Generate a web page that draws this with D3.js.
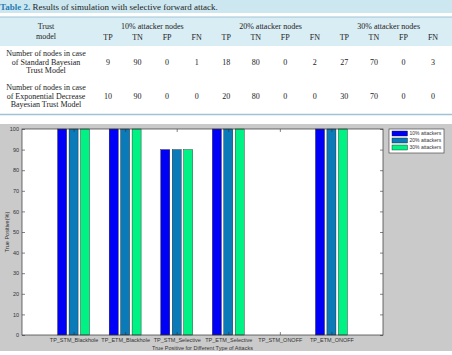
<!DOCTYPE html>
<html>
<head>
<meta charset="utf-8">
<script src="https://cdn.jsdelivr.net/npm/d3@7"></script>
<style>
  body { margin: 0; background: #fff; }
</style>
</head>
<body>
<div id="chart"></div>
<script>
// table data
var tableTitle = "Results of simulation with selective forward attack.";
var groupHeaders = ["10% attacker nodes", "20% attacker nodes", "30% attacker nodes"];
var subHeaders = ["TP", "TN", "FP", "FN"];
var rowLabels = [
  ["Number of nodes in case", "of Standard Bayesian", "Trust Model"],
  ["Number of nodes in case", "of Exponential Decrease", "Bayesian Trust Model"]
];
var stmRow = [9, 90, 0, 1, 18, 80, 0, 2, 27, 70, 0, 3];
var etmRow = [10, 90, 0, 0, 20, 80, 0, 0, 30, 70, 0, 0];

// chart data
var categories = ["TP_STM_Blackhole", "TP_ETM_Blackhole", "TP_STM_Selective",
                  "TP_ETM_Selective", "TP_STM_ONOFF", "TP_ETM_ONOFF"];
var seriesNames = ["10% attackers", "20% attackers", "30% attackers"];
var attack10 = [100, 100, 90, 100, 0, 100];
var attack20 = [100, 100, 90, 100, 0, 100];
var attack30 = [100, 100, 90, 100, 0, 100];
var yTicks = [0, 10, 20, 30, 40, 50, 60, 70, 80, 90, 100];

var colors = ["#0000f6", "#0a7ab8", "#00f284"];

function drawChart() {
  var W = 452, H = 355;
  var svg = d3.select("#chart").append("svg")
      .attr("width", W).attr("height", H)
      .style("display", "block");

  // ---------- table ----------
  var serif = "'Liberation Serif', 'Times New Roman', serif";

  svg.append("rect").attr("x", 0).attr("y", 0).attr("width", W).attr("height", 13)
    .attr("fill", "#cde7f0");
  var title = svg.append("text").attr("x", 0).attr("y", 10)
    .style("font-family", serif).style("font-size", "9px").attr("fill", "#222");
  title.append("tspan").attr("fill", "#2b7db3").style("font-weight", "bold").text("Table 2.");
  title.append("tspan").text(" " + tableTitle);

  svg.append("rect").attr("x", 0).attr("y", 17).attr("width", W).attr("height", 29)
    .attr("fill", "#d9edf4");
  svg.append("line").attr("x1", 0).attr("x2", W).attr("y1", 17).attr("y2", 17)
    .attr("stroke", "#9fc3d4").attr("stroke-width", 1);
  svg.append("line").attr("x1", 0).attr("x2", W).attr("y1", 114.5).attr("y2", 114.5)
    .attr("stroke", "#9fc3d4").attr("stroke-width", 1.5);

  var cols = d3.range(12);
  var colX = d3.scalePoint().domain(cols).range([108, 433]);

  var tText = function (x, y, s) {
    return svg.append("text").attr("x", x).attr("y", y)
      .attr("text-anchor", "middle")
      .style("font-family", serif).style("font-size", "8px")
      .attr("fill", "#222").text(s);
  };

  tText(46, 29, "Trust");
  tText(46, 39, "model");
  groupHeaders.forEach(function (g, i) {
    var cx = (colX(i * 4) + colX(i * 4 + 3)) / 2;
    tText(cx, 29, g);
  });
  cols.forEach(function (c) {
    tText(colX(c), 40, subHeaders[c % 4]);
  });

  [stmRow, etmRow].forEach(function (row, r) {
    var base = r === 0 ? 56 : 90;
    rowLabels[r].forEach(function (l, k) { tText(46, base + k * 8.7, l); });
    row.forEach(function (v, c) { tText(colX(c), base + 8.7, v); });
  });

  // ---------- chart ----------
  var sans = "'Liberation Sans', Arial, sans-serif";
  svg.append("rect").attr("x", 0).attr("y", 124).attr("width", W).attr("height", 227)
    .attr("fill", "#cacaca");

  var pLeft = 22, pRight = 383, pTop = 129, pBottom = 335;
  var x = d3.scaleLinear().domain([0, categories.length + 1]).range([pLeft, pRight]);
  var y = d3.scaleLinear().domain([0, 100]).range([pBottom, pTop]);

  svg.append("rect").attr("x", pLeft).attr("y", pTop)
    .attr("width", pRight - pLeft).attr("height", pBottom - pTop).attr("fill", "#fff");

  var series = [attack10, attack20, attack30];
  var offsets = [-0.222, 0, 0.222];
  var barW = 0.175;

  series.forEach(function (vals, s) {
    svg.append("g").selectAll("rect")
      .data(vals)
      .enter().append("rect")
      .attr("x", function (d, i) { return x(i + 1 + offsets[s] - barW / 2); })
      .attr("width", function () { return x(barW) - x(0); })
      .attr("y", function (d) { return y(d); })
      .attr("height", function (d) { return y(0) - y(d); })
      .attr("fill", colors[s])
      .attr("stroke", "#1a1a1a").attr("stroke-width", 0.4);
  });

  var styleAxis = function (g) {
    g.select(".domain").remove();
    g.selectAll("line").attr("stroke", "#333").attr("stroke-width", 0.6);
    g.selectAll("text").style("font-family", sans).style("font-size", "5.5px").attr("fill", "#333");
  };

  svg.append("g").attr("transform", "translate(" + pLeft + ",0)")
    .call(d3.axisLeft(y).tickValues(yTicks).tickSize(-3).tickPadding(3))
    .call(styleAxis);
  svg.append("g").attr("transform", "translate(" + pRight + ",0)")
    .call(d3.axisRight(y).tickValues(yTicks).tickSize(-3).tickFormat(""))
    .call(styleAxis);
  svg.append("g").attr("transform", "translate(0," + pBottom + ")")
    .call(d3.axisBottom(x).tickValues(d3.range(1, categories.length + 1)).tickSize(-3)
      .tickPadding(3).tickFormat(function (d) { return categories[d - 1]; }))
    .call(styleAxis);
  svg.append("g").attr("transform", "translate(0," + pTop + ")")
    .call(d3.axisTop(x).tickValues(d3.range(1, categories.length + 1)).tickSize(-3).tickFormat(""))
    .call(styleAxis);

  svg.append("rect").attr("x", pLeft).attr("y", pTop)
    .attr("width", pRight - pLeft).attr("height", pBottom - pTop)
    .attr("fill", "none").attr("stroke", "#333").attr("stroke-width", 0.7);

  svg.append("text").attr("x", (pLeft + pRight) / 2).attr("y", 349.5)
    .attr("text-anchor", "middle")
    .style("font-family", sans).style("font-size", "5.5px").attr("fill", "#333")
    .text("True Positive for Different Type of Attacks");

  svg.append("text")
    .attr("transform", "translate(9," + (pTop + pBottom) / 2 + ") rotate(-90)")
    .attr("text-anchor", "middle")
    .style("font-family", sans).style("font-size", "5.5px").attr("fill", "#333")
    .text("True Positive(%)");

  // legend
  var legend = svg.append("g").attr("transform", "translate(389,129)");
  legend.append("rect").attr("width", 55).attr("height", 24)
    .attr("fill", "#fff").attr("stroke", "#333").attr("stroke-width", 0.6);
  seriesNames.forEach(function (n, i) {
    legend.append("rect").attr("x", 3).attr("y", 2 + i * 7)
      .attr("width", 15.5).attr("height", 5)
      .attr("fill", colors[i]).attr("stroke", "#1a1a1a").attr("stroke-width", 0.4);
    legend.append("text").attr("x", 20.5).attr("y", 6.3 + i * 7)
      .style("font-family", sans).style("font-size", "5px").attr("fill", "#333")
      .text(n);
  });
}

drawChart();
</script>
</body>
</html>
